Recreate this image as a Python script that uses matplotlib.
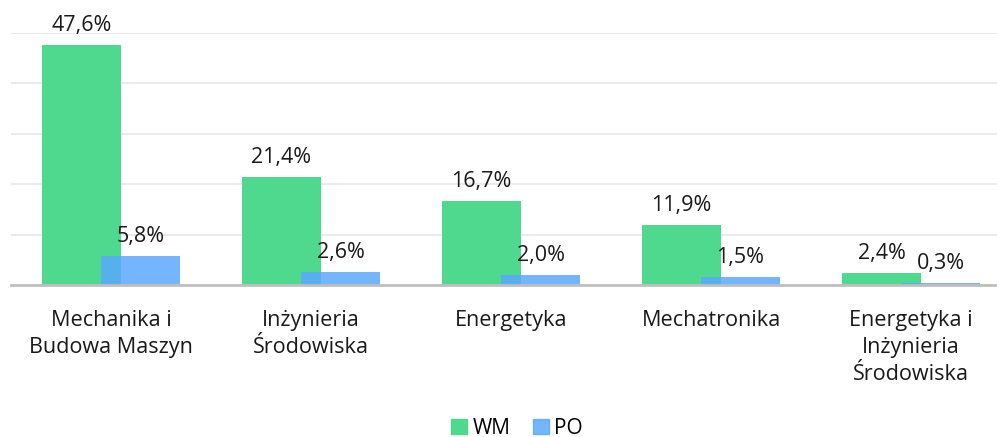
import numpy as np
import matplotlib.pyplot as plt
import matplotlib.patches as patches

categories = ["Mechanika i\nBudowa Maszyn", "Inżynieria\nŚrodowiska", "Energetyka",
              "Mechatronika", "Energetyka i\nInżynieria\nŚrodowiska"]
wm = [47.6, 21.4, 16.7, 11.9, 2.4]
po = [5.8, 2.6, 2.0, 1.5, 0.3]
series_names = ["WM", "PO"]

plt.rcParams['font.family'] = ['Open Sans', 'DejaVu Sans']

W, H = 997, 437
fig = plt.figure(figsize=(W / 100, H / 100), dpi=100)
ax = fig.add_axes([11 / W, 1 - 285 / H, 1000 / W, 252 / H])

x = np.arange(len(categories))
bw = 0.395
off = 0.1475
green = '#4ed98f'
blue = '#5aa8ff'
fs = 15

b1 = ax.bar(x - off, wm, bw, color=green, zorder=2, label=series_names[0])
b2 = ax.bar(x + off, po, bw, color=blue, alpha=0.85, zorder=3, label=series_names[1])

for bars, vals in ((b1, wm), (b2, po)):
    for rect, v in zip(bars, vals):
        ax.annotate(f"{v:.1f}%".replace('.', ','),
                    (rect.get_x() + rect.get_width() / 2, rect.get_height()),
                    xytext=(0, 6.5), textcoords='offset points',
                    ha='center', va='bottom', fontsize=15.5, color='#1a1a1a',
                    annotation_clip=False)

ax.set_xlim(-0.5, len(categories) - 0.5)
ax.set_ylim(0, 50)
ax.set_yticks([10, 20, 30, 40, 50])
ax.yaxis.grid(True, color='#ebebeb', linewidth=1.5, zorder=0)
ax.tick_params(axis='y', left=False, labelleft=False)
ax.set_xticks(x)
ax.set_xticklabels(categories, fontsize=15.6, color='#1a1a1a', linespacing=1.36)
ax.tick_params(axis='x', length=0, pad=18)
for s in ['top', 'right', 'left']:
    ax.spines[s].set_visible(False)
ax.spines['bottom'].set_color('#bfbfbf')
ax.spines['bottom'].set_linewidth(2)
ax.spines['bottom'].set_zorder(4)

handles = [patches.Patch(color=green), patches.Patch(color=blue, alpha=0.85)]
fig.legend(handles, series_names, loc='center', bbox_to_anchor=(517 / W, 1 - 428 / H),
           ncol=2, frameon=False, fontsize=fs, handlelength=0.75, handleheight=0.75,
           handletextpad=0.25, columnspacing=1.1, borderpad=0)

fig.savefig('out.png', dpi=100)
